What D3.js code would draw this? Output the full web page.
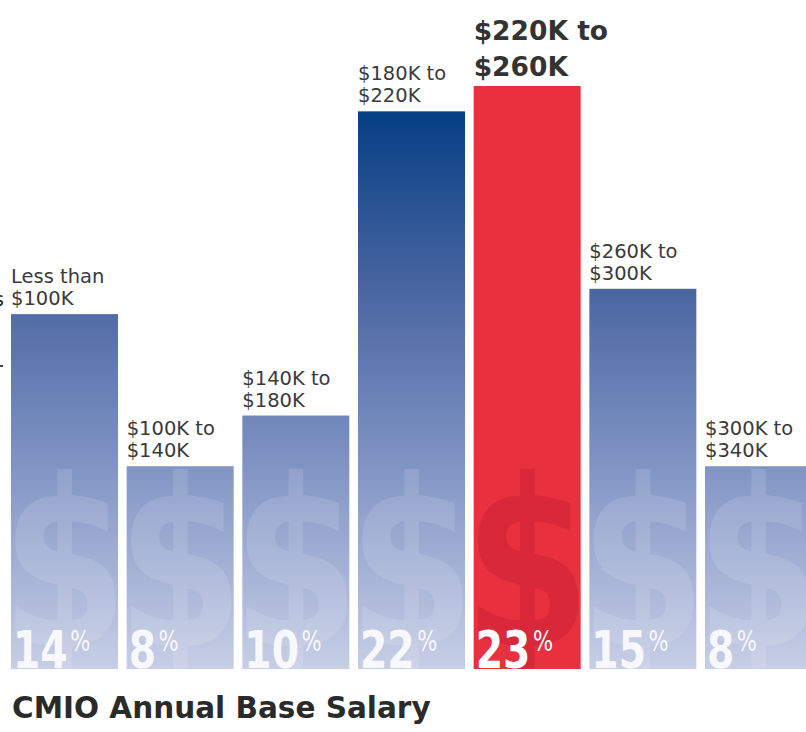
<!DOCTYPE html>
<meta charset="utf-8">
<head>
  <title>CMIO Annual Base Salary</title>
</head>

<style>
body { margin: 0; background: #fff; }
svg { display: block; }
.label { font-family: "DejaVu Sans", sans-serif; fill: #3a3a3a; }
.pct { font-family: "DejaVu Sans Condensed", "DejaVu Sans", sans-serif; fill: #fff; }
</style>

<body>
  <svg width="806" height="732"></svg>

  <script src="https://cdn.jsdelivr.net/npm/d3@7"></script>

  <script>
var width = 806, height = 732;

// salary ranges, each split in two lines above its bar
var categories = ['<100', '100-140', '140-180', '180-220', '220-260', '260-300', '300-340'];
var labelLine1 = ['Less than', '$100K to', '$140K to', '$180K to', '$220K to', '$260K to', '$300K to'];
var labelLine2 = ['$100K', '$140K', '$180K', '$220K', '$260K', '$300K', '$340K'];
var percents = [14, 8, 10, 22, 23, 15, 8];
var highlight = '220-260';

var svg = d3.select('svg');

var x = d3.scaleBand()
  .domain(categories)
  .range([11, 812])
  .paddingInner(0.075)
  .paddingOuter(0);

var y = d3.scaleLinear()
  .domain([0, 23])
  .range([669, 86]);

var defs = svg.append('defs');

// gradient is fixed in page space so bars share the same shade at the same height
var grad = defs.append('linearGradient')
  .attr('id', 'blueGrad')
  .attr('gradientUnits', 'userSpaceOnUse')
  .attr('x1', 0).attr('x2', 0)
  .attr('y1', y(23)).attr('y2', y(0));
grad.append('stop').attr('offset', 0.04).attr('stop-color', '#053e84');
grad.append('stop').attr('offset', 0.35).attr('stop-color', '#4a66a1');
grad.append('stop').attr('offset', 0.65).attr('stop-color', '#8094c4');
grad.append('stop').attr('offset', 1).attr('stop-color', '#c7cee6');

var data = categories.map(function(c, i) {
  return { cat: c, l1: labelLine1[i], l2: labelLine2[i], value: percents[i], hi: c === highlight };
});

// clip paths so the big dollar signs stay inside each bar
defs.selectAll('clipPath')
  .data(data)
  .enter()
  .append('clipPath')
  .attr('id', function(d, i) { return 'clip' + i; })
  .append('rect')
  .attr('x', function(d) { return x(d.cat); })
  .attr('y', function(d) { return y(d.value); })
  .attr('width', x.bandwidth())
  .attr('height', function(d) { return y(0) - y(d.value); });

var bars = svg.selectAll('g.bar')
  .data(data)
  .enter()
  .append('g')
  .attr('class', 'bar');

bars.append('rect')
  .attr('x', function(d) { return x(d.cat); })
  .attr('y', function(d) { return y(d.value); })
  .attr('width', x.bandwidth())
  .attr('height', function(d) { return y(0) - y(d.value); })
  .style('fill', function(d) { return d.hi ? '#e9303f' : 'url(#blueGrad)'; });

// watermark dollar sign
bars.append('g')
  .attr('clip-path', function(d, i) { return 'url(#clip' + i + ')'; })
  .append('text')
  .attr('transform', function(d) {
    return 'translate(' + (x(d.cat) + x.bandwidth() / 2) + ',' + (y(0) - 22) + ') scale(0.78,1)';
  })
  .attr('text-anchor', 'middle')
  .style('font-family', '"DejaVu Sans", sans-serif')
  .style('font-weight', 'bold')
  .style('font-size', '234px')
  .style('fill', function(d) { return d.hi ? '#b81a30' : '#ffffff'; })
  .style('fill-opacity', function(d) { return d.hi ? 0.32 : 0.12; })
  .text('$');

// percentage at the foot of each bar
var pct = bars.append('text')
  .attr('class', 'pct')
  .attr('transform', function(d) {
    return 'translate(' + (x(d.cat) + 2) + ',' + (y(0) - 1) + ') scale(0.84,1)';
  })
  .style('fill-opacity', function(d) { return d.hi ? 1 : 0.88; });

pct.append('tspan')
  .style('font-size', '52px')
  .style('font-weight', 'bold')
  .text(function(d) { return d.value; });

pct.append('tspan')
  .attr('dx', 3)
  .attr('dy', -17)
  .style('font-size', '28px')
  .text('%');

// range labels above the bars
var lab = bars.append('text')
  .attr('class', 'label')
  .attr('x', function(d) { return x(d.cat); })
  .style('font-size', function(d) { return d.hi ? '26.5px' : '19.5px'; })
  .style('font-weight', function(d) { return d.hi ? 'bold' : 'normal'; })
  .style('fill', function(d) { return d.hi ? '#333' : '#3a3a3a'; });

lab.append('tspan')
  .attr('x', function(d) { return x(d.cat); })
  .attr('y', function(d) { return y(d.value) - (d.hi ? 46 : 31); })
  .text(function(d) { return d.l1; });

lab.append('tspan')
  .attr('x', function(d) { return x(d.cat); })
  .attr('y', function(d) { return y(d.value) - (d.hi ? 10 : 9); })
  .text(function(d) { return d.l2; });

// cut-off remnants along the left edge
svg.append('text')
  .attr('x', -6).attr('y', 306)
  .style('font-family', '"DejaVu Sans", sans-serif')
  .style('font-size', '19px')
  .style('fill', '#222')
  .text('s');
svg.append('rect')
  .attr('x', 0).attr('y', 365).attr('width', 3).attr('height', 2)
  .style('fill', '#444');

// title
svg.append('text')
  .attr('x', 12)
  .attr('y', 718)
  .style('font-family', '"DejaVu Sans", sans-serif')
  .style('font-weight', 'bold')
  .style('font-size', '29.5px')
  .style('fill', '#2a2a2a')
  .text('CMIO Annual Base Salary');
  </script>
</body>
</html>
